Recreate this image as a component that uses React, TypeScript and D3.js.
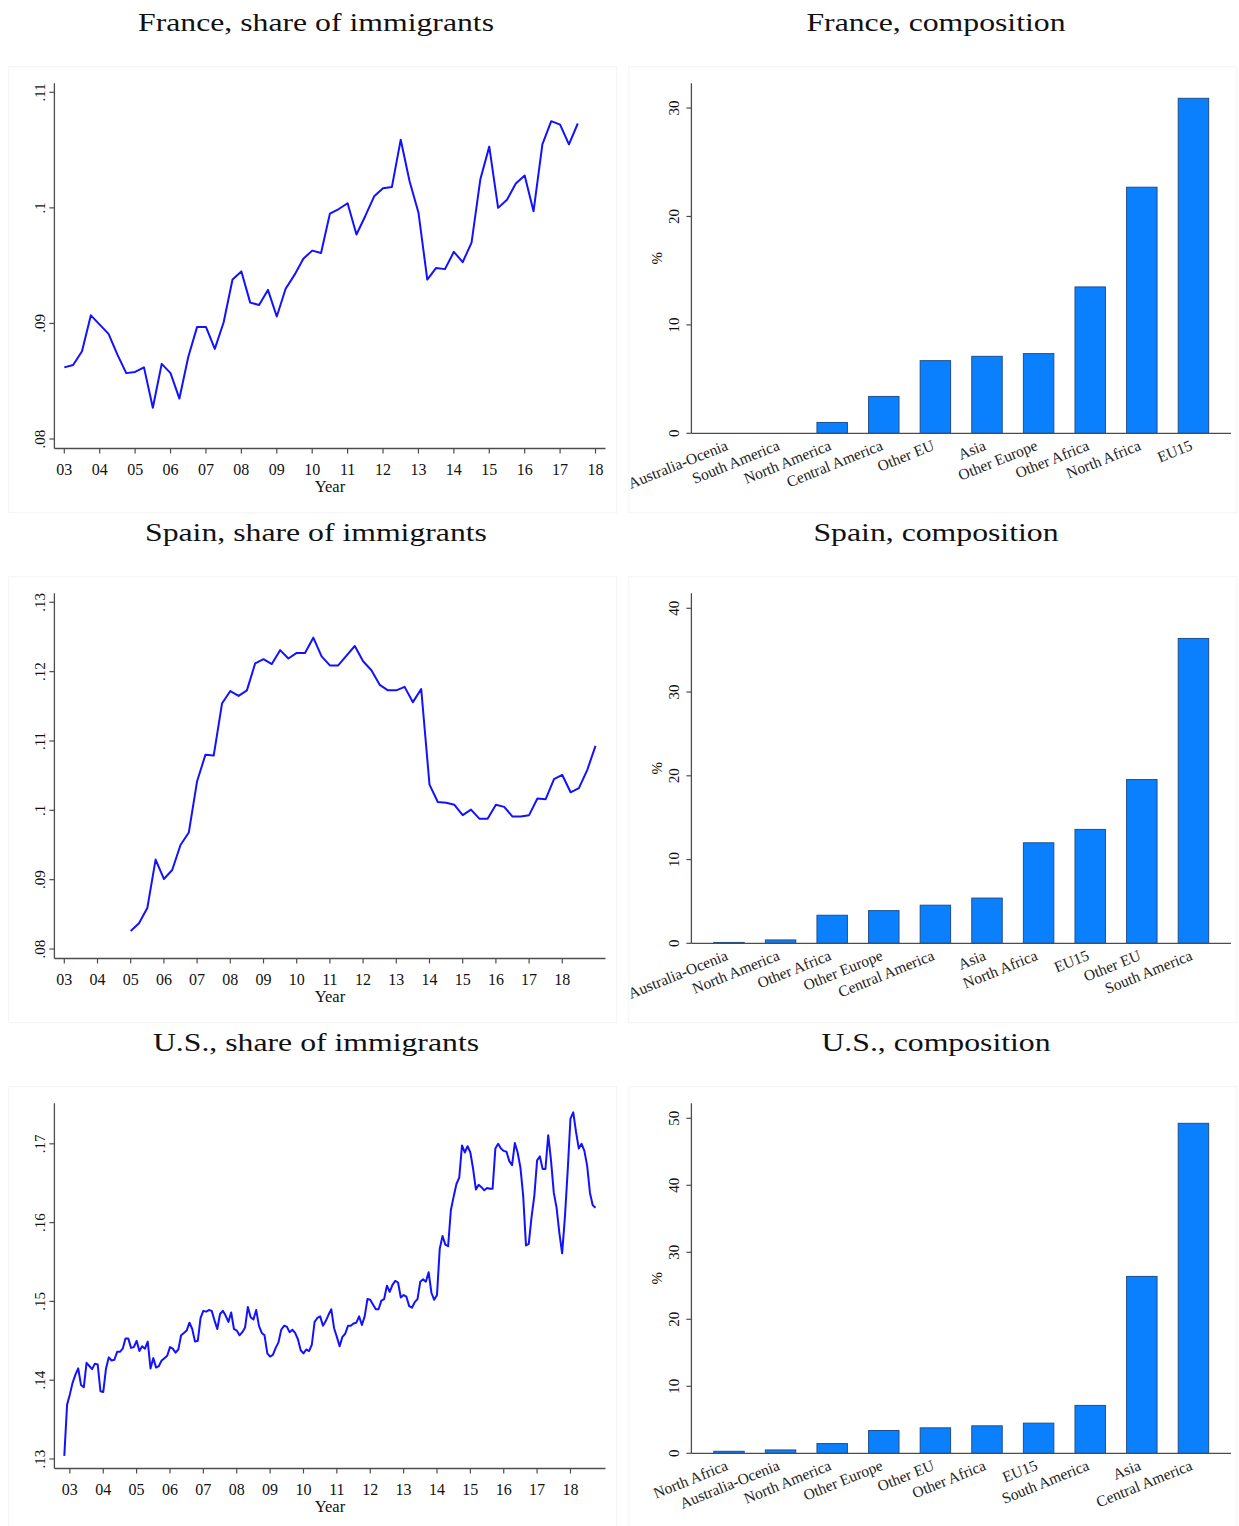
import React from 'react';
import * as d3 from 'd3';

const SERIF = '"Liberation Serif", "Times New Roman", Times, serif';
const LINE_BLUE = '#1212ff';
const BAR_FILL = '#0a80ff';
const BAR_EDGE = '#1f4f8a';
const AXIS = '#4d4d4d';
const PANEL_EDGE = '#f4f4f4';

// ---------- share of immigrants (time series) ----------
const yearTicks = [2003, 2004, 2005, 2006, 2007, 2008, 2009, 2010, 2011, 2012, 2013, 2014, 2015, 2016, 2017, 2018];

// France: quarterly, first observation 2003Q1
const franceStart = 2003;
const franceShare = [
  0.0862, 0.0864, 0.0876, 0.0907, 0.0899, 0.0891, 0.0873, 0.0857, 0.0858, 0.0862,
  0.0827, 0.0865, 0.0857, 0.0835, 0.0871, 0.0897, 0.0897, 0.0878, 0.0901, 0.0938,
  0.0945, 0.0918, 0.0916, 0.0929, 0.0906, 0.0930, 0.0942, 0.0956, 0.0963, 0.0961,
  0.0995, 0.0999, 0.1004, 0.0977, 0.0993, 0.1010, 0.1017, 0.1018, 0.1059, 0.1023,
  0.0996, 0.0938, 0.0948, 0.0947, 0.0962, 0.0953, 0.0970, 0.1025, 0.1053, 0.1000,
  0.1007, 0.1021, 0.1028, 0.0997, 0.1055, 0.1075, 0.1072, 0.1055, 0.1073,
];
const franceShareTicks = [0.08, 0.09, 0.1, 0.11];

// Spain: quarterly, first observation 2005Q1
const spainStart = 2005;
const spainShare = [
  0.0826, 0.0837, 0.0859, 0.0929, 0.0901, 0.0914, 0.0950, 0.0968, 0.1042, 0.1080,
  0.1079, 0.1154, 0.1172, 0.1165, 0.1173, 0.1212, 0.1218, 0.1211, 0.1231, 0.1219,
  0.1227, 0.1227, 0.1249, 0.1222, 0.1209, 0.1209, 0.1223, 0.1237, 0.1215, 0.1202,
  0.1181, 0.1173, 0.1173, 0.1178, 0.1156, 0.1175, 0.1037, 0.1012, 0.1011, 0.1008,
  0.0993, 0.1001, 0.0988, 0.0988, 0.1008, 0.1005, 0.0991, 0.0991, 0.0993, 0.1017,
  0.1016, 0.1045, 0.1051, 0.1026, 0.1032, 0.1058, 0.1093,
];
const spainShareTicks = [0.08, 0.09, 0.1, 0.11, 0.12, 0.13];

// U.S.: monthly, first observation November 2002
const usStart = 2002 + 10 / 12;
const usShare = [
  0.1304, 0.1369, 0.1382, 0.1397, 0.1407, 0.1415, 0.1394, 0.1391, 0.1422, 0.1418,
  0.1414, 0.1421, 0.1420, 0.1386, 0.1385, 0.1415, 0.1429, 0.1425, 0.1426, 0.1436,
  0.1436, 0.1440, 0.1453, 0.1453, 0.1441, 0.1442, 0.1450, 0.1437, 0.1443, 0.1440,
  0.1449, 0.1415, 0.1428, 0.1416, 0.1418, 0.1425, 0.1428, 0.1431, 0.1442, 0.1440,
  0.1435, 0.1439, 0.1457, 0.1460, 0.1463, 0.1473, 0.1465, 0.1449, 0.1450, 0.1479,
  0.1488, 0.1487, 0.1489, 0.1488, 0.1476, 0.1465, 0.1484, 0.1488, 0.1482, 0.1474,
  0.1486, 0.1465, 0.1463, 0.1457, 0.1461, 0.1467, 0.1493, 0.1480, 0.1477, 0.1489,
  0.1469, 0.1460, 0.1457, 0.1434, 0.1430, 0.1432, 0.1441, 0.1448, 0.1464, 0.1469,
  0.1468, 0.1461, 0.1464, 0.1460, 0.1452, 0.1438, 0.1434, 0.1439, 0.1437, 0.1445,
  0.1474, 0.1479, 0.1481, 0.1469, 0.1475, 0.1483, 0.1490, 0.1466, 0.1455, 0.1443,
  0.1455, 0.1459, 0.1469, 0.1469, 0.1472, 0.1473, 0.1481, 0.1470, 0.1481, 0.1503,
  0.1502, 0.1496, 0.1490, 0.1490, 0.1501, 0.1503, 0.1520, 0.1512, 0.1521, 0.1526,
  0.1524, 0.1505, 0.1508, 0.1506, 0.1494, 0.1492, 0.1499, 0.1503, 0.1525, 0.1528,
  0.1525, 0.1537, 0.1511, 0.1502, 0.1508, 0.1567, 0.1583, 0.1572, 0.1570, 0.1616,
  0.1633, 0.1649, 0.1657, 0.1698, 0.1689, 0.1697, 0.1689, 0.1668, 0.1642, 0.1648,
  0.1645, 0.1641, 0.1644, 0.1643, 0.1643, 0.1694, 0.1700, 0.1694, 0.1691, 0.1690,
  0.1678, 0.1673, 0.1701, 0.1689, 0.1670, 0.1634, 0.1571, 0.1573, 0.1607, 0.1634,
  0.1679, 0.1684, 0.1668, 0.1668, 0.1711, 0.1679, 0.1638, 0.1619, 0.1587, 0.1561,
  0.1607, 0.1666, 0.1732, 0.1740, 0.1715, 0.1694, 0.1700, 0.1691, 0.1672, 0.1638,
  0.1622, 0.1619,
];
const usShareTicks = [0.13, 0.14, 0.15, 0.16, 0.17];

// ---------- composition by origin (%) ----------
const franceOrigins = ['Australia-Ocenia', 'South America', 'North America', 'Central America', 'Other EU', 'Asia', 'Other Europe', 'Other Africa', 'North Africa', 'EU15'];
const franceComposition = [0, 0, 1.0, 3.4, 6.7, 7.1, 7.35, 13.5, 22.7, 30.9];
const franceCompTicks = [0, 10, 20, 30];

const spainOrigins = ['Australia-Ocenia', 'North America', 'Other Africa', 'Other Europe', 'Central America', 'Asia', 'North Africa', 'EU15', 'Other EU', 'South America'];
const spainComposition = [0.1, 0.4, 3.35, 3.9, 4.55, 5.4, 12.0, 13.6, 19.55, 36.4];
const spainCompTicks = [0, 10, 20, 30, 40];

const usOrigins = ['North Africa', 'Australia-Ocenia', 'North America', 'Other Europe', 'Other EU', 'Other Africa', 'EU15', 'South America', 'Asia', 'Central America'];
const usComposition = [0.3, 0.5, 1.45, 3.4, 3.8, 4.1, 4.5, 7.15, 26.4, 49.25];
const usCompTicks = [0, 10, 20, 30, 40, 50];

// ---------- layout ----------
const WIDTH = 1239;
const HEIGHT = 1526;
const ROW_STEP = 510;

const L = { axisX: 54.4, axisEnd: 605.5, x0: 64.3, x1: 595.5, yTop: 92.3, yBot: 439, axisTop: 83.3, axisY: 448.5 };
const R = { axisX: 691.4, axisEnd: 1231, base: 433.3, top: 98.3, axisTop: 83.3 };

const fmtShare = (v: number) => v.toFixed(2).replace(/^0/, '').replace(/0$/, '');
const fmtYear = (v: number) => String(v % 100).padStart(2, '0');

function Title({ cx, y, text }: { cx: number; y: number; text: string }) {
  return (
    <text transform={`translate(${cx},${y}) scale(1.245,1)`} textAnchor="middle" fontSize={25.5} fill="#111">
      {text}
    </text>
  );
}

function SharePanel({ row, title, start, perYear, values, yTicks }:
  { row: number; title: string; start: number; perYear: number; values: number[]; yTicks: number[] }) {
  const oy = row * ROW_STEP;
  const t = values.map((_, i) => start + i / perYear);
  const x = d3.scaleLinear()
    .domain([Math.min(yearTicks[0], t[0]), Math.max(yearTicks[yearTicks.length - 1], t[t.length - 1])])
    .range([L.x0, L.x1]);
  const [vmin, vmax] = d3.extent(values) as [number, number];
  const y = d3.scaleLinear()
    .domain([Math.min(yTicks[0], vmin), Math.max(yTicks[yTicks.length - 1], vmax)])
    .range([oy + L.yBot, oy + L.yTop]);
  const path = d3.line<number>().x((_, i) => x(t[i])).y((v) => y(v))(values) || '';
  const axisY = oy + L.axisY;
  return (
    <g>
      <rect x={8.7} y={oy + 66.7} width={608} height={446} fill="none" stroke={PANEL_EDGE} />
      <Title cx={316} y={oy + 30.5} text={title} />
      <path d={path} fill="none" stroke={LINE_BLUE} strokeWidth={2} strokeLinejoin="round" />
      <line x1={L.axisX} x2={L.axisX} y1={oy + L.axisTop} y2={axisY} stroke={AXIS} strokeWidth={1.3} />
      <line x1={L.axisX} x2={L.axisEnd} y1={axisY} y2={axisY} stroke={AXIS} strokeWidth={1.3} />
      {yTicks.map((v) => (
        <g key={v}>
          <line x1={L.axisX - 5} x2={L.axisX} y1={y(v)} y2={y(v)} stroke={AXIS} strokeWidth={1.2} />
          <text transform={`translate(${L.axisX - 9},${y(v)}) rotate(-90)`} textAnchor="middle" fontSize={15} fill="#111">
            {fmtShare(v)}
          </text>
        </g>
      ))}
      {yearTicks.map((yr) => (
        <g key={yr}>
          <line x1={x(yr)} x2={x(yr)} y1={axisY} y2={axisY + 5} stroke={AXIS} strokeWidth={1.2} />
          <text x={x(yr)} y={axisY + 26} textAnchor="middle" fontSize={16} fill="#111">
            {fmtYear(yr)}
          </text>
        </g>
      ))}
      <text x={(L.axisX + L.axisEnd) / 2} y={axisY + 43} textAnchor="middle" fontSize={16.5} fill="#111">
        Year
      </text>
    </g>
  );
}

function CompositionPanel({ row, title, origins, shares, yTicks }:
  { row: number; title: string; origins: string[]; shares: number[]; yTicks: number[] }) {
  const oy = row * ROW_STEP;
  const x = d3.scaleBand<string>()
    .domain(origins)
    .range([R.axisX, R.axisEnd])
    .paddingInner(0.41)
    .paddingOuter(0.433);
  const y = d3.scaleLinear()
    .domain([0, Math.max(yTicks[yTicks.length - 1], d3.max(shares) as number)])
    .range([oy + R.base, oy + R.top]);
  const bw = x.bandwidth();
  const base = oy + R.base;
  return (
    <g>
      <rect x={628.7} y={oy + 66.7} width={608} height={446} fill="none" stroke={PANEL_EDGE} />
      <Title cx={936} y={oy + 30.5} text={title} />
      {origins.map((o, i) => (
        <rect key={o} x={x(o)} y={y(shares[i])} width={bw} height={y(0) - y(shares[i])}
          fill={BAR_FILL} stroke={BAR_EDGE} strokeWidth={1} />
      ))}
      <line x1={R.axisX} x2={R.axisX} y1={oy + R.axisTop} y2={base} stroke={AXIS} strokeWidth={1.3} />
      <line x1={R.axisX} x2={R.axisEnd} y1={base} y2={base} stroke={AXIS} strokeWidth={1.3} />
      {yTicks.map((v) => (
        <g key={v}>
          <line x1={R.axisX - 5} x2={R.axisX} y1={y(v)} y2={y(v)} stroke={AXIS} strokeWidth={1.2} />
          <text transform={`translate(${R.axisX - 12},${y(v)}) rotate(-90)`} textAnchor="middle" fontSize={15} fill="#111">
            {v}
          </text>
        </g>
      ))}
      <text transform={`translate(${R.axisX - 29},${(oy + R.axisTop + base) / 2}) rotate(-90)`} textAnchor="middle" fontSize={15} fill="#111">
        %
      </text>
      {origins.map((o) => (
        <text key={o} transform={`translate(${(x(o) as number) + bw / 2},${base + 16}) rotate(-22)`}
          textAnchor="end" fontSize={15.5} fill="#222">
          {o}
        </text>
      ))}
    </g>
  );
}

export default function App() {
  return (
    <svg width={WIDTH} height={HEIGHT} viewBox={`0 0 ${WIDTH} ${HEIGHT}`}
      style={{ position: 'absolute', left: 0, top: 0, background: '#fff' }} fontFamily={SERIF}>
      <rect x={0} y={0} width={WIDTH} height={HEIGHT} fill="#fff" />
      <SharePanel row={0} title="France, share of immigrants" start={franceStart} perYear={4} values={franceShare} yTicks={franceShareTicks} />
      <CompositionPanel row={0} title="France, composition" origins={franceOrigins} shares={franceComposition} yTicks={franceCompTicks} />
      <SharePanel row={1} title="Spain, share of immigrants" start={spainStart} perYear={4} values={spainShare} yTicks={spainShareTicks} />
      <CompositionPanel row={1} title="Spain, composition" origins={spainOrigins} shares={spainComposition} yTicks={spainCompTicks} />
      <SharePanel row={2} title="U.S., share of immigrants" start={usStart} perYear={12} values={usShare} yTicks={usShareTicks} />
      <CompositionPanel row={2} title="U.S., composition" origins={usOrigins} shares={usComposition} yTicks={usCompTicks} />
    </svg>
  );
}
